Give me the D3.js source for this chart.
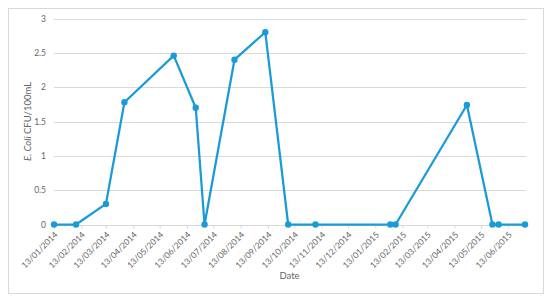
<!DOCTYPE html>
<html>
<head>
<meta charset="utf-8">
<script src="https://cdn.jsdelivr.net/npm/d3@7"></script>
<style>
  html, body { margin: 0; padding: 0; background: #fff; }
  svg { display: block; font-family: Lato, "Open Sans", sans-serif; }
</style>
</head>
<body>
<svg id="chart" width="550" height="301"></svg>
<script>
// Data
const dates = ["2014-01-13","2014-02-07","2014-03-13","2014-04-03","2014-05-29","2014-06-23","2014-07-03",
  "2014-08-06","2014-09-10","2014-10-06","2014-11-06","2015-01-30","2015-02-05","2015-04-27",
  "2015-05-26","2015-06-02","2015-07-02"];
const values = [0, 0, 0.30, 1.78, 2.46, 1.70, 0, 2.40, 2.80, 0, 0, 0, 0, 1.74, 0, 0, 0];
const yTicks = [0, 0.5, 1, 1.5, 2, 2.5, 3];
const yTickLabels = ["0", "0.5", "1", "1.5", "2", "2.5", "3"];
const xTickDates = ["2014-01-13","2014-02-13","2014-03-13","2014-04-13","2014-05-13","2014-06-13","2014-07-13",
  "2014-08-13","2014-09-13","2014-10-13","2014-11-13","2014-12-13","2015-01-13","2015-02-13","2015-03-13",
  "2015-04-13","2015-05-13","2015-06-13"];

(function () {
const parse = d3.utcParse("%Y-%m-%d");
const fmt = d3.utcFormat("%d/%m/%Y");
const data = dates.map((d, i) => ({ date: parse(d), value: values[i] }));

const svg = d3.select("#chart");
const pL = 54, pR = 525, pT = 18.5, pB = 224.5;

// outer frame
svg.append("rect").attr("x", 8.5).attr("y", 8.5).attr("width", 535).attr("height", 285)
  .attr("fill", "#fff").attr("stroke", "#d9d9d9").attr("stroke-width", 1);

const x = d3.scaleUtc().domain([parse("2014-01-13"), parse("2015-07-02")]).range([pL, pR]);
const y = d3.scaleLinear().domain([0, 3]).range([pB, pT]);

// gridlines
svg.append("g").selectAll("line").data(yTicks.slice(1)).join("line")
  .attr("x1", pL).attr("x2", pR + 1)
  .attr("y1", d => Math.round(y(d)) + 0.5).attr("y2", d => Math.round(y(d)) + 0.5)
  .attr("stroke", "#d9d9d9").attr("stroke-width", 1);

// y axis labels
const yAxis = d3.axisLeft(y).tickValues(yTicks).tickFormat((d, i) => yTickLabels[i]).tickSize(0).tickPadding(8);
const gy = svg.append("g").attr("transform", `translate(${pL},0)`).call(yAxis);
gy.select(".domain").remove();
gy.selectAll("text").attr("fill", "#666").style("font-size", "8.5px").style("font-family", "Lato, sans-serif");

// x axis
const xAxis = d3.axisBottom(x).tickValues(xTickDates.map(parse)).tickFormat(fmt).tickSize(3).tickSizeOuter(0);
const gx = svg.append("g").attr("transform", `translate(0,${Math.round(pB) + 0.5})`).call(xAxis);
gx.select(".domain").attr("stroke", "#d9d9d9").attr("d", `M${pL},0H${pR + 1}`);
gx.selectAll(".tick line").attr("stroke", "#d9d9d9");
gx.selectAll("text")
  .attr("fill", "#666").style("font-size", "8.5px").style("font-family", "Lato, sans-serif")
  .attr("text-anchor", "end").attr("dy", "0.3em").attr("y", 0)
  .attr("transform", "translate(2,8) rotate(-45)");

// line
const line = d3.line().x(d => x(d.date)).y(d => y(d.value));
svg.append("path").datum(data).attr("d", line)
  .attr("fill", "none").attr("stroke", "#1a9ad8").attr("stroke-width", 2.25).attr("stroke-linejoin", "round");

svg.append("g").selectAll("circle").data(data).join("circle")
  .attr("cx", d => x(d.date)).attr("cy", d => y(d.value)).attr("r", 3.2).attr("fill", "#1a9ad8");

// axis titles
const yt = svg.append("text").attr("transform", `translate(31,${(pT + pB) / 2}) rotate(-90)`)
  .attr("text-anchor", "middle").attr("fill", "#666").style("font-size", "9.5px");
yt.append("tspan").style("font-style", "italic").text("E. Coli");
yt.append("tspan").text(" CFU/100mL");

svg.append("text").attr("x", (pL + pR) / 2).attr("y", 279).attr("text-anchor", "middle")
  .attr("fill", "#666").style("font-size", "9.5px").text("Date");
})();
</script>
</body>
</html>
